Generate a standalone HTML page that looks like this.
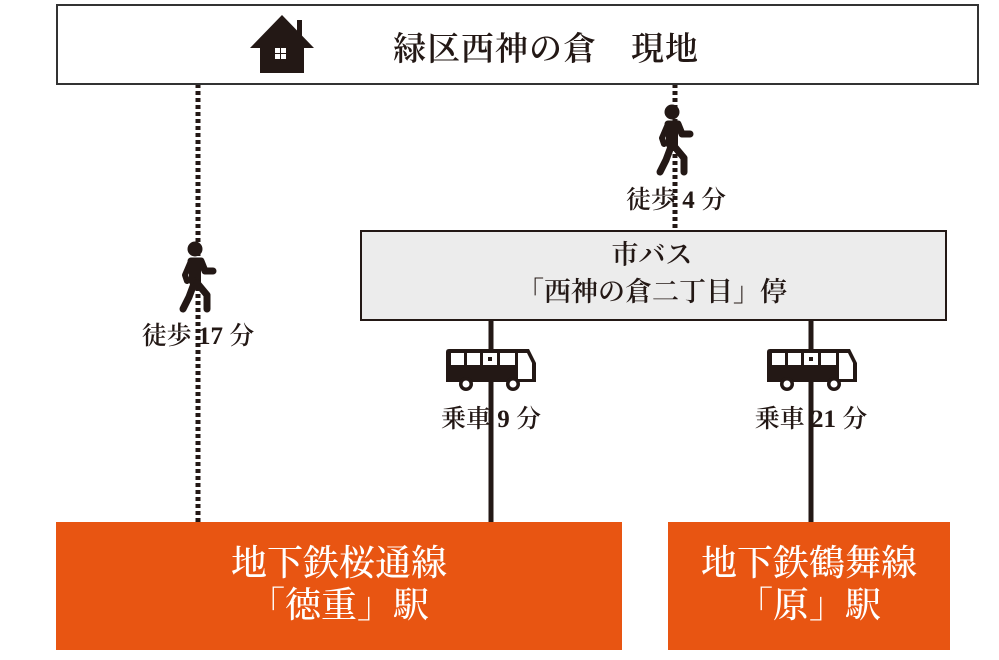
<!DOCTYPE html>
<html><head><meta charset="utf-8"><style>
*{margin:0;padding:0;box-sizing:border-box}
body{width:999px;height:660px;background:#fff;position:relative;overflow:hidden;font-family:"Liberation Serif","Noto Serif CJK JP","Noto Serif CJK SC",serif;color:#231815;font-weight:600}
.a{position:absolute}
.t{position:absolute;white-space:nowrap;text-align:center;transform:translateX(-50%)}
</style></head><body>
<svg class="a" style="left:0;top:0" width="999" height="660">
<defs>
<g id="w" fill="#231815" stroke="#231815" stroke-linecap="round" stroke-linejoin="round">
<circle cx="0" cy="0" r="7.5" stroke="none"/>
<path d="M-4,12 L6,12 L10,22 L18,22" fill="none" stroke-width="7"/>
<path d="M-4,12 L-10,26 L-8,32" fill="none" stroke-width="6"/>
<rect x="-6" y="10" width="12" height="26" rx="3" stroke="none"/>
<path d="M0,32 L-6,48 L-12,60" fill="none" stroke-width="7"/>
<path d="M2,34 L12,46 L12,60" fill="none" stroke-width="7"/>
</g>
<g id="b">
<path d="M0,3 Q0,0 3,0 L83,0 L90,14 L90,33 L0,33 Z" fill="#231815"/>
<rect x="5" y="4" width="13" height="12" fill="#fff"/>
<rect x="21" y="4" width="13" height="12" fill="#fff"/>
<rect x="37" y="4" width="14" height="12" fill="#fff"/>
<rect x="42" y="8" width="4" height="4" fill="#231815"/>
<rect x="54" y="4" width="15" height="12" fill="#fff"/>
<path d="M72,4 L81,4 L86,14 L86,30 L72,30 Z" fill="#fff"/>
<circle cx="20" cy="35" r="7" fill="#231815"/><circle cx="20" cy="35" r="3.5" fill="#fff"/>
<circle cx="67" cy="35" r="7" fill="#231815"/><circle cx="67" cy="35" r="3.5" fill="#fff"/>
</g>
</defs>
<line x1="198" y1="84" x2="198" y2="522" stroke="#231815" stroke-width="5" stroke-dasharray="4,3"/>
<line x1="675" y1="84" x2="675" y2="232" stroke="#231815" stroke-width="5" stroke-dasharray="4,3"/>
<line x1="491" y1="320" x2="491" y2="522" stroke="#231815" stroke-width="5"/>
<line x1="811" y1="320" x2="811" y2="522" stroke="#231815" stroke-width="5"/>
<rect x="57" y="5" width="921" height="79" fill="#fff" stroke="#333" stroke-width="2"/>
<rect x="361" y="231" width="585" height="89" fill="#ececec" stroke="#231815" stroke-width="2"/>
<rect x="56" y="522" width="566" height="128" fill="#e85512"/>
<rect x="668" y="522" width="282" height="128" fill="#e85512"/>
<g fill="#231815">
<polygon points="282,15 250,48 314,48"/>
<rect x="260" y="44" width="44" height="29"/>
<rect x="297" y="20" width="5" height="18"/>
</g>
<rect x="275" y="48" width="5" height="5" fill="#fff"/>
<rect x="281" y="48" width="5" height="5" fill="#fff"/>
<rect x="275" y="54" width="5" height="5" fill="#fff"/>
<rect x="281" y="54" width="5" height="5" fill="#fff"/>
<use href="#w" x="195" y="249"/>
<use href="#w" x="672" y="112"/>
<use href="#b" x="446" y="349"/>
<use href="#b" x="767" y="349"/>
</svg>

<div class="t" style="left:546px;top:23px;font-size:33px;letter-spacing:1px">緑区西神の倉　現地</div>
<div class="t" style="left:198px;top:316px;font-size:25px">徒歩 17 分</div>
<div class="t" style="left:676px;top:180px;font-size:25px">徒歩 4 分</div>
<div class="t" style="left:652px;top:237px;font-size:27px;line-height:37px">市バス<br>「西神の倉二丁目」停</div>
<div class="t" style="left:491px;top:399px;font-size:25px">乗車 9 分</div>
<div class="t" style="left:811px;top:399px;font-size:25px">乗車 21 分</div>
<div class="t" style="left:339px;top:542px;font-size:36px;line-height:42px;color:#fff;font-weight:500">地下鉄桜通線<br>「徳重」駅</div>
<div class="t" style="left:809px;top:542px;font-size:36px;line-height:42px;color:#fff;font-weight:500">地下鉄鶴舞線<br>「原」駅</div>
</body></html>
